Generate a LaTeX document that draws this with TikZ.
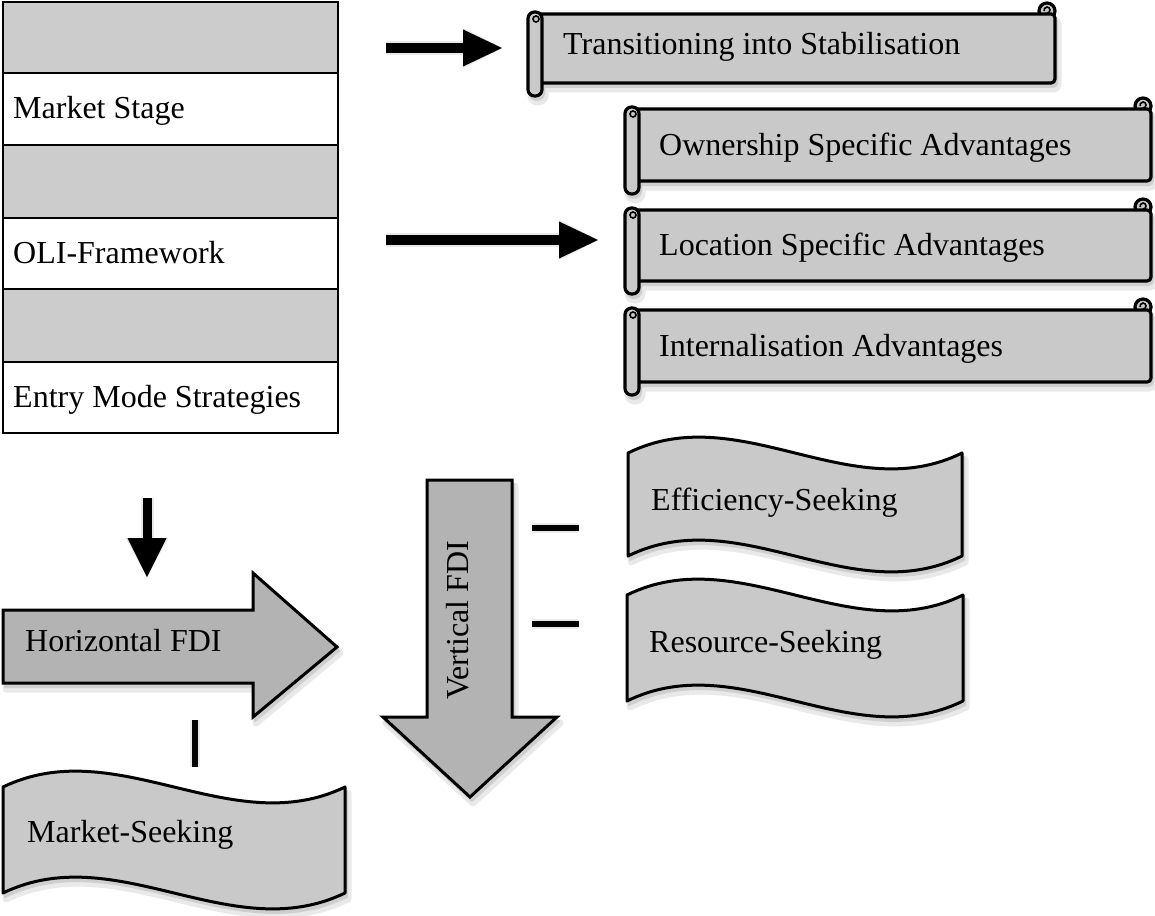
\documentclass[tikz,border=0pt]{standalone}
\usepackage{fontspec}
\setmainfont{Liberation Serif}
\usetikzlibrary{arrows.meta}
\definecolor{cellgrey}{HTML}{CCCCCC}
\definecolor{scrollgrey}{HTML}{C9C9C9}
\definecolor{arrowgrey}{HTML}{B3B3B3}
\definecolor{shadowgrey}{HTML}{CFCFCF}
\definecolor{shadowlight}{HTML}{E9E9E9}

% horizontal scroll: #1 style, #2 xl, #3 xr, #4 yt, #5 yb
\newcommand\scrollshape[5]{%
  \filldraw[#1] (#3-8,#4-3) circle[radius=8];
  \filldraw[#1, rounded corners=4pt] (#2+7,#4) rectangle (#3,#5);
  \draw[line width=1.6pt] (#3-8,#4-1) arc[start angle=90, end angle=-200, radius=3];
  \filldraw[#1, rounded corners=6.5pt] (#2,#4-2) rectangle (#2+14,#5+13);
  \draw[line width=1.6pt] (#2+8,#4+5) circle[radius=3];
}
\newcommand\scrollshadow[5]{%
  \filldraw[#1, rounded corners=4pt] (#2+7,#4) rectangle (#3,#5);
  \filldraw[#1, rounded corners=6.5pt] (#2,#4) rectangle (#2+14,#5+13);
}
% wave: #1 style, #2 x0, #3 top, #4 width, #5 height
\newcommand\waveshape[5]{%
  \filldraw[#1] (#2,#3) .. controls (#2+#4/3,#3-55) and (#2+2*#4/3,#3+55) .. (#2+#4,#3)
    -- (#2+#4,#3+#5) .. controls (#2+2*#4/3,#3+#5+55) and (#2+#4/3,#3+#5-55) .. (#2,#3+#5) -- cycle;
}
\newcommand\harrowshape[1]{%
  \filldraw[#1] (3,610) -- (253,610) -- (253,573) -- (337,647) -- (253,717) -- (253,683) -- (3,683) -- cycle;
}
\newcommand\varrowshape[1]{%
  \filldraw[#1] (427,480) -- (512,480) -- (512,717) -- (557,717) -- (470,797) -- (383,717) -- (427,717) -- cycle;
}
\newcommand\allshadows[3]{% #1 style, #2 tip colour, #3 extra line width
  \scrollshadow{#1}{528}{1055}{14}{83}
  \scrollshadow{#1}{625}{1151}{109}{181}
  \scrollshadow{#1}{625}{1151}{210}{281}
  \scrollshadow{#1}{625}{1151}{310}{382}
  \waveshape{#1}{628}{453}{334}{103}
  \waveshape{#1}{627}{595}{336}{106}
  \waveshape{#1}{3}{787}{342}{106}
  \harrowshape{#1}
  \varrowshape{#1}
  \draw[line width=10pt+#3, #2, -{Triangle[width=37pt+#3,length=39pt,line width=0pt]}] (a1s) -- (a1e);
  \draw[line width=10pt+#3, #2, -{Triangle[width=37pt+#3,length=39pt,line width=0pt]}] (a2s) -- (a2e);
  \draw[line width=9pt+#3, #2, -{Triangle[width=39pt+#3,length=39pt,line width=0pt]}] (a3s) -- (a3e);
  \draw[line width=6pt+#3, #2] (d1s) -- (d1e);
  \draw[line width=6pt+#3, #2] (d2s) -- (d2e);
  \draw[line width=6pt+#3, #2] (v1s) -- (v1e);
}

\begin{document}
\begin{tikzpicture}[x=1pt,y=-1pt,
  txt/.style={font=\fontsize{32}{38}\selectfont, inner sep=0pt, anchor=base west},
  cellbox/.style={draw=black, line width=2.5pt},
  scrl/.style={draw=black, fill=scrollgrey, line width=3.2pt, line join=round},
  wav/.style={draw=black, fill=scrollgrey, line width=3pt, line join=round},
  bigarrow/.style={draw=black, fill=arrowgrey, line width=3pt, line join=miter},
  shdlight/.style={draw=shadowlight, fill=shadowlight, line width=7pt, line join=round},
  shd/.style={draw=shadowgrey, fill=shadowgrey, line width=2pt, line join=round},
  blkarrow/.style={line width=10pt, -{Triangle[width=37pt,length=39pt,line width=0pt]}},
  tick/.style={line width=6pt},
]
\useasboundingbox (0,0) rectangle (1155,915);

% coordinates for free connectors
\coordinate (a1s) at (386,48);  \coordinate (a1e) at (502,48);
\coordinate (a2s) at (386,240); \coordinate (a2e) at (598,240);
\coordinate (a3s) at (147,498); \coordinate (a3e) at (147,577);
\coordinate (d1s) at (532,528); \coordinate (d1e) at (579,528);
\coordinate (d2s) at (532,624); \coordinate (d2e) at (579,624);
\coordinate (v1s) at (195,720); \coordinate (v1e) at (195,767);

% ---------- shadows ----------
\begin{scope}[shift={(3,6)}]
  \allshadows{shdlight}{shadowlight}{4pt}
\end{scope}
\begin{scope}[shift={(2,4)}]
  \allshadows{shd}{shadowgrey}{0pt}
\end{scope}

% ---------- left table ----------
\filldraw[cellbox, fill=cellgrey] (3,2) rectangle (338,73);
\filldraw[cellbox, fill=white] (3,73) rectangle (338,145);
\filldraw[cellbox, fill=cellgrey] (3,145) rectangle (338,218);
\filldraw[cellbox, fill=white] (3,218) rectangle (338,289);
\filldraw[cellbox, fill=cellgrey] (3,289) rectangle (338,362);
\filldraw[cellbox, fill=white] (3,362) rectangle (338,433);
\node[txt] (tms) at (13,118) {Market Stage};
\node[txt] (toli) at (13,263) {OLI-Framework};
\node[txt] (tems) at (13,407) {Entry Mode Strategies};

% ---------- scrolls ----------
\scrollshape{scrl}{528}{1055}{14}{83}
\scrollshape{scrl}{625}{1151}{109}{181}
\scrollshape{scrl}{625}{1151}{210}{281}
\scrollshape{scrl}{625}{1151}{310}{382}
\node[txt] (tstab) at (563,55) {Transitioning into Stabilisation};
\node[txt] (town) at (659,155) {Ownership Specific Advantages};
\node[txt] (tloc) at (659,255) {Location Specific Advantages};
\node[txt] (tint) at (659,356) {Internalisation Advantages};

% ---------- black arrows ----------
\draw[blkarrow] (a1s) -- (a1e);
\draw[blkarrow] (a2s) -- (a2e);
\draw[line width=9pt, -{Triangle[width=39pt,length=39pt,line width=0pt]}] (a3s) -- (a3e);

% ---------- FDI arrows ----------
\harrowshape{bigarrow}
\varrowshape{bigarrow}
\node[txt] (thfdi) at (25,651) {Horizontal FDI};
\node[txt, rotate=90] (tvfdi) at (468,700) {Vertical FDI};

% ---------- waves ----------
\waveshape{wav}{628}{453}{334}{103}
\waveshape{wav}{627}{595}{336}{106}
\waveshape{wav}{3}{787}{342}{106}
\node[txt] (teff) at (651,510) {Efficiency-Seeking};
\node[txt] (tres) at (649,652) {Resource-Seeking};
\node[txt] (tmkt) at (27,842) {Market-Seeking};

% ---------- ticks ----------
\draw[tick] (d1s) -- (d1e);
\draw[tick] (d2s) -- (d2e);
\draw[tick] (v1s) -- (v1e);
\end{tikzpicture}
\end{document}
